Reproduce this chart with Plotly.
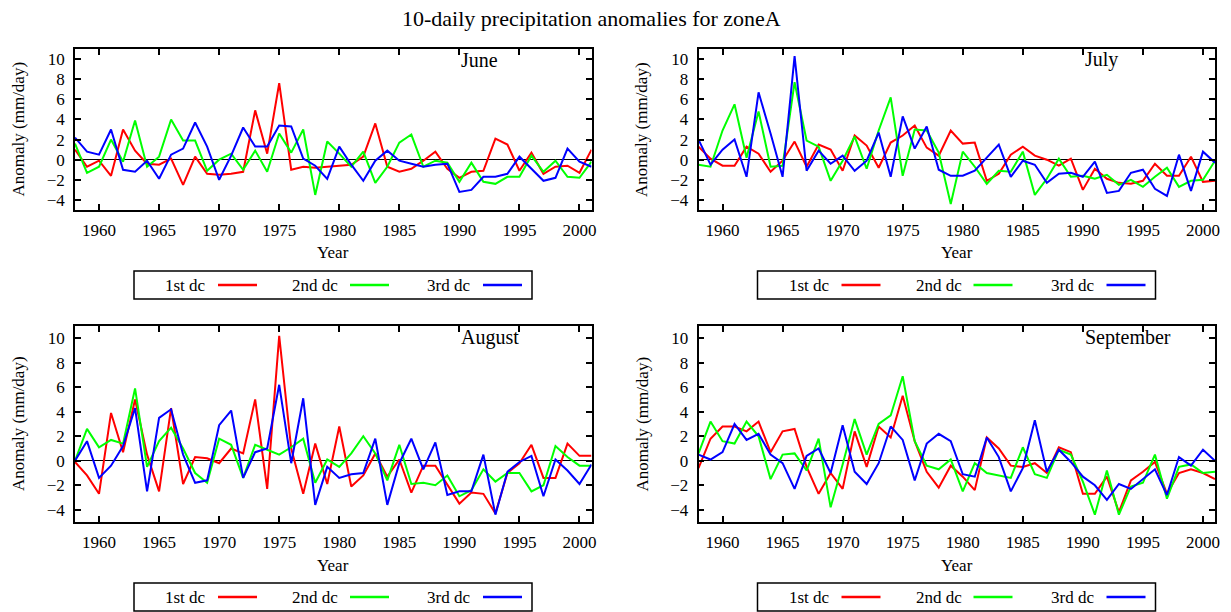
import plotly.graph_objects as go

W, H = 1231, 612

years = list(range(1958, 2002))

june_1st = [1.0, -0.7, -0.1, -1.6, 3.0, 0.9, -0.4, -0.5, 0.1, -2.5,
            0.3, -1.4, -1.5, -1.4, -1.2, 4.9, 0.6, 7.6, -1.0, -0.7,
            -0.8, -0.7, -0.6, -0.5, 0.3, 3.6, -0.7, -1.2, -0.9, -0.1,
            0.8, -0.9, -1.8, -1.2, -1.1, 2.1, 1.5, -1.1, 0.7, -1.4,
            -0.7, -0.6, -1.3, 1.0]
june_2nd = [1.6, -1.3, -0.7, 2.0, -0.2, 3.9, -0.7, 0.3, 4.0, 1.9,
            1.9, -1.1, 0.0, 0.6, -1.0, 0.9, -1.2, 2.6, 0.7, 3.0,
            -3.5, 1.8, 0.6, -0.7, 0.8, -2.3, -0.7, 1.7, 2.5, -0.7,
            -0.1, -0.3, -2.2, -0.3, -2.2, -2.4, -1.7, -1.7, 0.4, -1.2,
            -0.1, -1.7, -1.8, -0.2]
june_3rd = [2.2, 0.8, 0.5, 3.0, -1.0, -1.2, -0.1, -1.9, 0.5, 1.1,
            3.7, 1.3, -2.0, 0.4, 3.2, 1.3, 1.3, 3.4, 3.3, 0.1,
            -0.6, -1.9, 1.3, -0.5, -2.1, -0.1, 0.9, -0.1, -0.4, -0.7,
            -0.5, -0.4, -3.2, -3.0, -1.7, -1.7, -1.4, 0.3, -0.9, -2.1,
            -1.8, 1.1, -0.2, -0.7]

july_1st = [1.3, 0.1, -0.6, -0.6, 1.3, 0.6, -1.2, -0.1, 1.8, -0.7,
            1.5, 1.0, -1.1, 2.4, 1.4, -0.8, 1.7, 2.4, 3.4, 1.2,
            0.4, 2.9, 1.6, 1.7, -2.1, -1.4, 0.5, 1.3, 0.4, 0.0,
            -0.6, 0.1, -3.0, -0.9, -1.9, -2.3, -2.4, -2.1, -0.4, -1.6,
            -1.6, 0.3, -2.2, -2.1]
july_2nd = [-0.5, -0.7, 2.9, 5.5, 0.2, 4.8, -0.7, -0.6, 7.7, 1.9,
            1.3, -2.1, -0.1, 2.3, -0.9, 2.9, 6.2, -1.6, 3.0, 2.9,
            0.7, -4.4, 0.8, -0.7, -2.4, -1.1, -1.2, 0.8, -3.5, -1.9,
            0.1, -1.7, -1.6, -1.9, -1.5, -2.5, -2.0, -2.7, -1.7, -0.8,
            -2.7, -2.1, -2.0, -0.1]
july_3rd = [2.0, -0.5, 1.0, 2.0, -1.7, 6.7, 2.6, -1.7, 10.3, -1.1,
            0.9, -0.4, 0.4, -1.1, -0.1, 2.7, -1.7, 4.3, 1.1, 3.3,
            -1.0, -1.6, -1.6, -1.1, 0.2, 1.5, -1.7, -0.1, -0.5, -2.3,
            -1.4, -1.3, -1.7, -0.2, -3.3, -3.1, -1.3, -1.0, -2.9, -3.6,
            0.5, -3.1, 0.8, -0.3]

aug_1st = [-0.1, -1.2, -2.7, 3.9, 0.7, 5.0, 0.5, -2.5, 4.3, -1.9,
           0.3, 0.2, -0.2, 1.0, 0.6, 5.0, -2.3, 10.2, 1.0, -2.7,
           1.4, -1.9, 2.8, -2.1, -1.2, 0.6, -1.3, 0.1, -2.6, -0.4,
           -0.4, -1.9, -3.5, -2.6, -2.7, -4.3, -1.0, -0.2, 1.3, -1.4,
           -1.4, 1.4, 0.4, 0.4]
aug_2nd = [0.0, 2.6, 1.1, 1.7, 1.4, 5.9, -0.5, 1.6, 2.7, 1.0,
           -1.0, -1.8, 1.8, 1.3, -1.4, 1.3, 0.9, 0.5, 1.1, 1.8,
           -1.8, 0.1, -0.5, 0.6, 2.0, 0.6, -1.6, 1.3, -1.9, -1.8,
           -2.0, -1.2, -2.9, -2.4, -0.7, -1.7, -1.0, -1.0, -2.5, -2.0,
           1.2, 0.3, -0.4, -0.4]
aug_3rd = [0.0, 1.6, -1.4, -0.4, 1.2, 4.3, -2.5, 3.5, 4.2, 0.5,
           -1.8, -1.6, 2.9, 4.1, -1.4, 0.7, 1.0, 6.2, -0.2, 5.1,
           -3.6, -0.5, -1.4, -1.1, -1.0, 1.8, -3.6, -0.2, 1.8, -0.7,
           1.5, -2.8, -2.5, -2.5, 0.5, -4.4, -0.9, -0.1, 0.4, -2.9,
           0.1, -0.8, -1.9, -0.3]

sep_1st = [-0.6, 1.8, 2.8, 2.8, 2.4, 3.2, 0.7, 2.4, 2.6, -0.5,
           -2.7, -1.0, -2.3, 2.4, -0.5, 2.8, 1.9, 5.3, 1.6, -0.9,
           -2.2, -0.4, -1.3, -2.4, 1.9, 1.0, -0.4, -0.5, -0.2, -1.0,
           1.1, 0.7, -2.7, -2.7, -1.3, -4.2, -1.6, -0.9, -0.1, -2.7,
           -1.0, -0.7, -1.0, -1.5]
sep_2nd = [0.6, 3.2, 1.6, 1.4, 3.2, 2.0, -1.5, 0.5, 0.6, -0.8,
           1.8, -3.8, -0.3, 3.4, 0.5, 3.0, 3.7, 6.9, 1.6, -0.4,
           -0.7, 0.1, -2.5, -0.2, -1.0, -1.2, -1.4, 1.1, -1.1, -1.4,
           0.9, 0.5, -1.7, -4.4, -0.8, -4.4, -2.1, -1.8, 0.5, -3.1,
           -0.5, -0.3, -1.0, -0.9]
sep_3rd = [0.5, 0.1, 0.7, 3.0, 1.7, 2.2, 0.5, -0.2, -2.3, 0.4,
           1.0, -1.0, 2.9, -0.9, -1.9, -0.2, 2.8, 1.7, -1.6, 1.4,
           2.2, 1.6, -1.1, -1.3, 1.9, 0.3, -2.5, -0.6, 3.3, -0.9,
           0.9, -0.1, -1.3, -2.0, -3.2, -1.9, -2.3, -1.5, -0.7, -2.8,
           0.3, -0.4, 0.9, 0.0]

months = ["June", "July", "August", "September"]
series_names = ["1st dc", "2nd dc", "3rd dc"]
series_colors = ["#ff0000", "#00ff00", "#0000ff"]
month_data = [
    [june_1st, june_2nd, june_3rd],
    [july_1st, july_2nd, july_3rd],
    [aug_1st, aug_2nd, aug_3rd],
    [sep_1st, sep_2nd, sep_3rd],
]
x_ticks = [1960, 1965, 1970, 1975, 1980, 1985, 1990, 1995, 2000]
y_ticks = [-4, -2, 0, 2, 4, 6, 8, 10]

FONT = "Liberation Serif"


def fx(p):
    return p / W


def fy(p):
    return 1 - p / H


# pixel frames of the four panels: (left, right, top, bottom)
frames = [(75, 591.5, 49, 210), (698.5, 1215, 49, 210),
          (75, 591.5, 326, 522), (698.5, 1215, 326, 522)]

fig = go.Figure()
annotations = []
shapes = []

for k, (month, data) in enumerate(zip(months, month_data)):
    idx = "" if k == 0 else str(k + 1)
    l, r, t, b = frames[k]
    for name, color, vals in zip(series_names, series_colors, data):
        fig.add_trace(go.Scatter(
            x=years, y=vals, mode="lines", name=name,
            line=dict(color=color, width=2),
            xaxis="x" + idx, yaxis="y" + idx, showlegend=False,
        ))
    axis_common = dict(
        showline=True, linecolor="black", linewidth=1.5, mirror="allticks",
        ticks="inside", ticklen=6, tickwidth=1.5, tickcolor="black",
        showgrid=False, automargin=False,
        tickfont=dict(family=FONT, size=17, color="black"),
    )
    fig.layout["xaxis" + idx] = dict(
        axis_common, domain=[fx(l), fx(r)], range=[1958, 2001],
        tickvals=x_ticks, anchor="y" + idx, zeroline=False,
        ticklabelstandoff=4,
    )
    fig.layout["yaxis" + idx] = dict(
        axis_common, domain=[fy(b), fy(t)], range=[-5, 11],
        tickvals=y_ticks, anchor="x" + idx,
        zeroline=True, zerolinecolor="black", zerolinewidth=1,
        ticklabelstandoff=5,
    )
    # month label
    annotations.append(dict(
        text=month, x=fx(l + 384), y=fy(t + 11), xref="paper", yref="paper",
        xanchor="left", yanchor="middle", showarrow=False,
        font=dict(family=FONT, size=20, color="black"),
    ))
    # axis titles
    annotations.append(dict(
        text="Year", x=fx((l + r) / 2), y=fy(b + 43), xref="paper", yref="paper",
        xanchor="center", yanchor="middle", showarrow=False,
        font=dict(family=FONT, size=17, color="black"),
    ))
    annotations.append(dict(
        text="Anomaly (mm/day)", x=fx(l - 57), y=fy((t + b) / 2),
        xref="paper", yref="paper", textangle=-90,
        xanchor="center", yanchor="middle", showarrow=False,
        font=dict(family=FONT, size=17, color="black"),
    ))
    # legend box
    off = l - 75
    ltop = b + 61
    lbot = ltop + 28
    lmid = (ltop + lbot) / 2
    shapes.append(dict(
        type="rect", xref="paper", yref="paper",
        x0=fx(134 + off), x1=fx(532 + off), y0=fy(lbot), y1=fy(ltop),
        line=dict(color="black", width=1.5), fillcolor="white",
    ))
    text_right = [207, 339, 471]
    line_left = [218, 350, 483]
    for name, color, tr, ll in zip(series_names, series_colors, text_right, line_left):
        annotations.append(dict(
            text=name, x=fx(tr + off + 1), y=fy(lmid), xref="paper", yref="paper",
            xanchor="right", yanchor="middle", showarrow=False,
            font=dict(family=FONT, size=17, color="black"),
        ))
        shapes.append(dict(
            type="line", xref="paper", yref="paper",
            x0=fx(ll + off), x1=fx(ll + off + 39), y0=fy(lmid), y1=fy(lmid),
            line=dict(color=color, width=2.5),
        ))

annotations.append(dict(
    text="10-daily precipitation anomalies for zoneA", x=fx(591), y=fy(18),
    xref="paper", yref="paper", xanchor="center", yanchor="middle",
    showarrow=False, font=dict(family=FONT, size=22, color="black"),
))

fig.update_layout(
    width=W, height=H, margin=dict(l=0, r=0, t=0, b=0),
    paper_bgcolor="white", plot_bgcolor="white",
    annotations=annotations, shapes=shapes, showlegend=False,
    font=dict(family=FONT, color="black"),
)

fig.write_html("out.html", config={"displayModeBar": False})
